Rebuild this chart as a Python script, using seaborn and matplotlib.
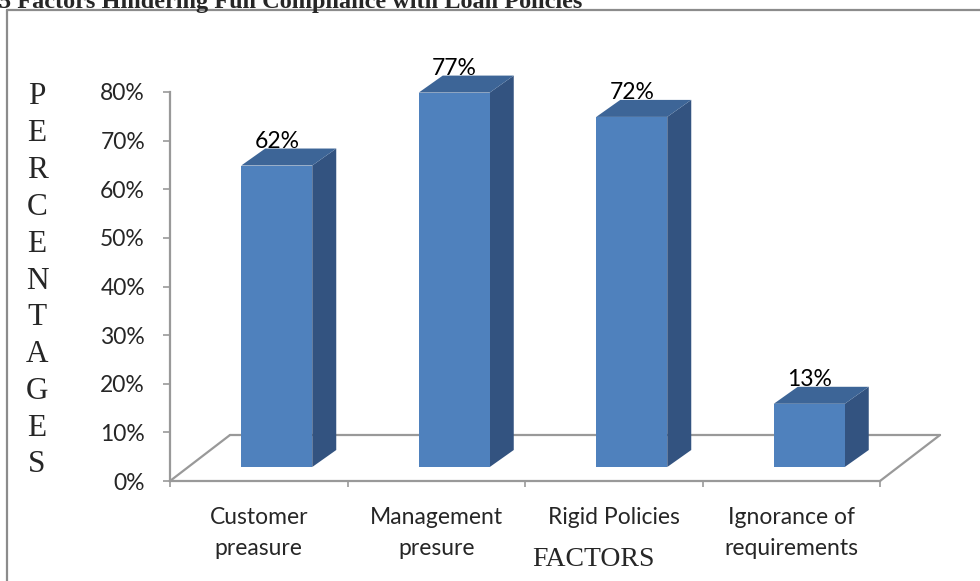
import matplotlib
matplotlib.use("Agg")
import matplotlib.pyplot as plt
import seaborn as sns
import numpy as np
from matplotlib.patches import Polygon
from matplotlib.lines import Line2D

categories = ["Customer\npreasure", "Management\npresure", "Rigid Policies", "Ignorance of\nrequirements"]
values = [62, 77, 72, 13]
value_labels = ["62%", "77%", "72%", "13%"]
yticks = [0, 10, 20, 30, 40, 50, 60, 70, 80]
ytick_labels = ["0%", "10%", "20%", "30%", "40%", "50%", "60%", "70%", "80%"]
title = "5 Factors Hindering Full Compliance with Loan Policies"
ylabel = "PERCENTAGES"
xlabel = "FACTORS"

FRONT = "#4f81bd"
SIDE = "#335380"
TOP = "#3d6597"
GRAY = "#999999"
SANS = ["Lato", "DejaVu Sans"]
SERIF = ["Liberation Serif", "DejaVu Serif"]

W, H, DPI = 980, 581, 100
sns.set_theme(style="white")
plt.rcParams["font.family"] = SANS

fig = plt.figure(figsize=(W / DPI, H / DPI), dpi=DPI)
fig.patch.set_facecolor("white")

def fx(px):
    return px / W

def fy(py):
    return 1 - py / H

ax = fig.add_axes([fx(170), fy(481), fx(880) - fx(170), fy(92) - fy(481)])
ax.set_facecolor("none")

sns.barplot(x=categories, y=values, color=FRONT, saturation=1, width=0.4, ax=ax)
ax.set_xlim(-0.5, len(categories) - 0.5)
ax.set_ylim(0, 80)

def px2data(dxp, dyp):
    p0 = ax.transData.transform((0, 0))
    d = ax.transData.inverted().transform(p0 + np.array([dxp, dyp]))
    return d[0], d[1]

# offsets in pixels
FOFF = (18, 14)   # front face of bars from front plane
DEP = (24, 17)    # bar depth
FLOOR = (60, 46)  # floor depth

fdx, fdy = px2data(*FOFF)
ddx, ddy = px2data(*DEP)
flx, fly = px2data(*FLOOR)

for p in ax.patches:
    x0 = p.get_x()
    w = p.get_width()
    h = p.get_height()
    p.set_x(x0 + fdx)
    p.set_y(fdy)
    p.set_edgecolor("none")
    p.set_zorder(3)
    xa, xb = x0 + fdx, x0 + w + fdx
    yb, yt = fdy, h + fdy
    side = Polygon([(xb, yb), (xb, yt), (xb + ddx, yt + ddy), (xb + ddx, yb + ddy)],
                   closed=True, facecolor=SIDE, edgecolor="none", zorder=2, clip_on=False)
    top = Polygon([(xa, yt), (xb, yt), (xb + ddx, yt + ddy), (xa + ddx, yt + ddy)],
                  closed=True, facecolor=TOP, edgecolor="none", zorder=2, clip_on=False)
    ax.add_patch(side)
    ax.add_patch(top)

# floor outline
xl, xr = -0.5, len(categories) - 0.5
for xs, ys in [([xl, xl + flx], [0, fly]), ([xl + flx, xr + flx], [fly, fly]), ([xr, xr + flx], [0, fly])]:
    ax.add_line(Line2D(xs, ys, color=GRAY, lw=1.6, zorder=1, clip_on=False))

# value labels
for i, (v, lab) in enumerate(zip(values, value_labels)):
    ax.annotate(lab, xy=(i, v), xytext=(FOFF[0] + 0, FOFF[1] + DEP[1] + 1),
                textcoords="offset pixels", ha="center", va="baseline",
                fontsize=16.5, color="black", family=SANS, zorder=5)

# axes styling
for s in ["top", "right"]:
    ax.spines[s].set_visible(False)
for s in ["left", "bottom"]:
    ax.spines[s].set_color(GRAY)
    ax.spines[s].set_linewidth(1.6)

ax.set_yticks(yticks)
ax.set_yticklabels(ytick_labels, fontsize=16.5, family=SANS)
ax.tick_params(axis="y", direction="out", length=5, width=1.2, color=GRAY, pad=13, left=True)

ax.set_xticks(range(len(categories)))
ax.set_xticklabels(categories, fontsize=16.5, family=SANS, linespacing=1.55, va="top")
ax.set_xticks(np.arange(-0.5, len(categories), 1.0), minor=True)
ax.tick_params(axis="x", which="major", length=0, pad=19, bottom=True)
ax.tick_params(axis="x", which="minor", direction="out", length=4.5, width=1.2, color=GRAY, bottom=True)
ax.set_xlabel("")
ax.set_ylabel("")

# vertical axis title: stacked letters
for k, ch in enumerate(ylabel):
    fig.text(fx(37), fy(97 + k * 36.8), ch, ha="center", va="center",
             fontsize=22.5, family=SERIF)
fig.text(fx(593), fy(566), xlabel, ha="center", va="baseline", fontsize=20, family=SERIF)

# title, cut off at the top
fig.text(fx(-1), fy(8), title, ha="left", va="baseline", fontsize=17.5,
         family=SERIF, fontweight="bold")

# outer border
fig.add_artist(Line2D([fx(7), fx(7)], [fy(10), fy(585)], color="#8c8c8c", lw=1.6))
fig.add_artist(Line2D([fx(7), fx(985)], [fy(10), fy(10)], color="#8c8c8c", lw=1.6))

fig.savefig("out.png", dpi=DPI)
